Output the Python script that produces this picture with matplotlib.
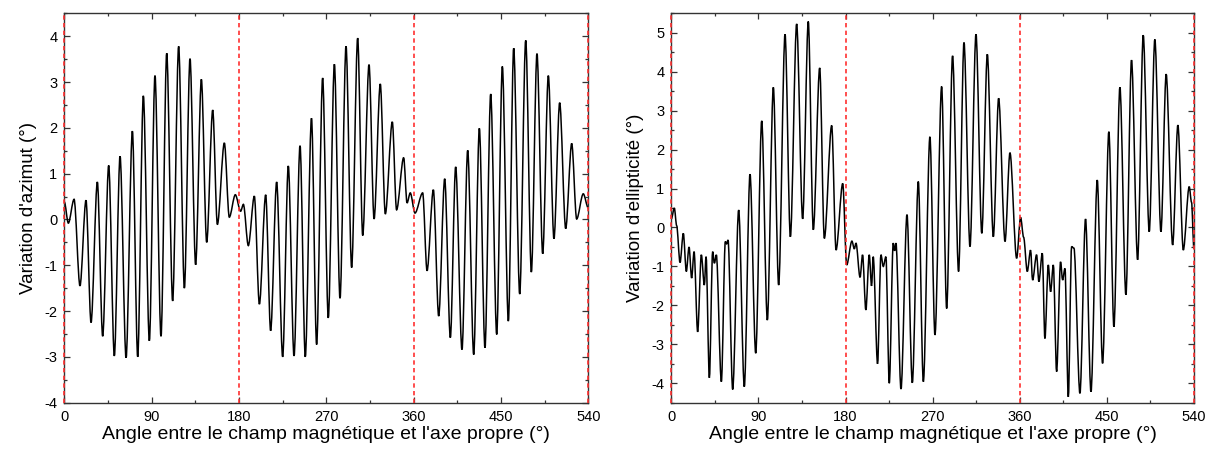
import numpy as np
import matplotlib
matplotlib.use("Agg")
import matplotlib.pyplot as plt
from matplotlib.ticker import MultipleLocator
from matplotlib.path import Path
from matplotlib.patches import PathPatch

plt.rcParams['font.family'] = ['Liberation Sans', 'DejaVu Sans']
plt.rcParams['axes.unicode_minus'] = False

# Azimuth variation: local extrema (angle in deg, value in deg)
azim_angle = [0, 4.1, 10.0, 16.1, 22.3, 27.5, 34.0, 39.5, 45.7, 51.5, 57.4, 63.6,
              70.1, 75.6, 81.4, 87.6, 93.4, 99.6, 105.5, 111.6, 117.8, 123.7,
              129.5, 135.3, 141.2, 146.7, 152.9, 157.7, 164.9, 170.0, 176.2,
              181.7, 184.5, 189.6, 195.8, 201.0, 207.5, 212.6, 218.8, 225.0,
              230.8, 236.7, 242.9, 248.3, 254.7, 260.0, 266.2, 272.0, 278.3,
              284.1, 290.3, 296.1, 302.3, 307.5, 314.0, 319.2, 325.6, 330.8,
              338.0, 342.4, 349.7, 353.2, 356.5, 361.4, 369.3, 373.8, 380.3,
              385.8, 392.0, 397.8, 403.3, 409.8, 415.7, 421.9, 427.7, 433.5,
              439.4, 445.6, 451.4, 457.6, 463.1, 469.3, 475.5, 481.3, 487.1,
              493.0, 498.8, 504.6, 510.5, 516.7, 522.9, 528.0, 534.8, 540]
azim_value = [0.38, -0.08, 0.44, -1.45, 0.42, -2.25, 0.82, -2.55, 1.18, -2.98, 1.38, -3.02,
              1.93, -3.00, 2.70, -2.65, 3.14, -2.55, 3.63, -1.78, 3.78, -1.50,
              3.51, -0.99, 3.06, -0.50, 2.39, -0.11, 1.67, 0.05, 0.54,
              0.18, 0.33, -0.57, 0.51, -1.85, 0.54, -2.43, 0.82, -3.00,
              1.17, -2.98, 1.61, -3.00, 2.21, -2.73, 3.09, -2.15, 3.39,
              -1.72, 3.78, -1.05, 3.96, -0.35, 3.38, 0.01, 2.96, 0.12,
              2.13, 0.21, 1.35, 0.36, 0.58, 0.14, 0.58, -1.12, 0.65,
              -2.11, 0.89, -2.58, 1.15, -2.84, 1.51, -2.95, 1.99, -2.80,
              2.74, -2.51, 3.34, -2.22, 3.74, -1.63, 3.91, -1.15, 3.62,
              -0.75, 3.14, -0.42, 2.55, -0.20, 1.66, 0.01, 0.56, 0.25]

# Ellipticity variation: local extrema
ellip_angle = [0, 3.1, 5.5, 9.0, 12.4, 15.5, 18.3, 21.0, 23.5, 27.2, 31.0, 34.1,
               35.9, 39.3, 42.7, 44.5, 46.5, 51.7, 55.8, 57.2, 58.6, 63.4, 69.6,
               75.4, 81.3, 87.2, 93.4, 99.2, 105.4, 110.9, 117.5, 123.0, 129.5,
               135.7, 141.5, 146.7, 153.3, 158.1, 165.7, 170.2, 177.1, 181.2,
               186.6, 189.1, 190.8, 195.0, 197.6, 201.0, 204.5, 206.9, 208.6,
               213.1, 216.6, 219.0, 221.7, 225.2, 229.3, 230.7, 232.1, 237.3,
               243.5, 249.0, 255.2, 260.4, 267.2, 272.4, 279.3, 284.5, 290.6,
               296.8, 302.4, 308.6, 314.8, 320.8, 326.5, 332.7, 338.2, 344.8,
               349.9, 356.8, 360.9, 364.0, 367.8, 371.2, 373.3, 377.4, 379.8,
               383.3, 386.0, 389.5, 391.9, 394.7, 398.1, 402.2, 404.3, 406.7,
               410.2, 413.6, 416.0, 422.2, 428.0, 433.6, 440.1, 445.6, 452.1,
               457.3, 463.5, 469.7, 475.5, 481.8, 487.6, 493.8, 499.6, 505.9,
               511.3, 518.0, 523.4, 529.0, 535.1, 537.5, 540]
ellip_value = [0.22, 0.50, 0.05, -0.90, -0.15, -1.13, -0.50, -1.30, -0.62, -2.68, -0.70, -1.48,
               -0.75, -3.86, -0.62, -0.92, -0.70, -3.96, -0.36, -0.42, -0.32, -4.16, 0.45,
               -4.09, 1.37, -3.23, 2.74, -2.38, 3.60, -1.48, 4.96, -0.24, 5.23,
               0.22, 5.29, -0.06, 4.10, -0.28, 2.62, -0.58, 1.13, -0.96,
               -0.35, -0.55, -0.40, -1.28, -0.70, -2.12, -0.70, -1.50, -0.75,
               -3.50, -0.70, -1.00, -0.75, -4.00, -0.40, -0.60, -0.40, -4.15,
               0.33, -3.99, 1.18, -3.96, 2.33, -2.76, 3.62, -2.08, 4.41,
               -1.13, 4.75, -0.49, 4.96, -0.15, 4.45, -0.24, 3.32, -0.36,
               1.92, -0.79, 0.26, -0.25, -1.13, -0.58, -1.35, -0.70, -1.39,
               -0.66, -2.85, -0.96, -1.65, -0.96, -3.70, -0.88, -1.35, -1.05,
               -4.35, -0.49, -0.53, -4.26, 0.22, -4.22, 1.22, -3.49, 2.46,
               -2.55, 3.60, -1.73, 4.30, -0.83, 4.94, -0.11, 4.83, -0.11,
               3.94, -0.45, 2.63, -0.58, 1.05, 0.65, -0.55]

marker_angles = [0, 180, 360, 540]
x_ticks = [0, 90, 180, 270, 360, 450, 540]
x_label = "Angle entre le champ magnétique et l'axe propre (°)"


def extrema_path(xs, ys, k=0.32):
    # smooth curve through the extrema: flat tangent at each one (Bezier segments)
    verts = [(xs[0], ys[0])]
    codes = [Path.MOVETO]
    for x0, y0, x1, y1 in zip(xs[:-1], ys[:-1], xs[1:], ys[1:]):
        dx = x1 - x0
        verts += [(x0 + k * dx, y0), (x1 - k * dx, y1), (x1, y1)]
        codes += [Path.CURVE4] * 3
    return Path(verts, codes)


fig = plt.figure(figsize=(12.12, 4.53), dpi=100)
ax1 = fig.add_axes([0.0531, 0.111, 0.4323, 0.8596])
ax2 = fig.add_axes([0.5539, 0.111, 0.4312, 0.8596])

panels = [
    (ax1, azim_angle, azim_value, (-4, 4.5), "Variation d'azimut (°)"),
    (ax2, ellip_angle, ellip_value, (-4.5, 5.5), "Variation d'ellipticité (°)"),
]

for ax, xs, ys, ylim, ylabel in panels:
    ax.add_patch(PathPatch(extrema_path(xs, ys), fill=False, edgecolor="black",
                           lw=1.1, zorder=2))
    for a in marker_angles:
        ax.axvline(a, color="#ff3030", lw=1.2, linestyle=(0, (2.6, 2.0)),
                   zorder=4, clip_on=False)
    ax.set_xlim(0, 540)
    ax.set_ylim(*ylim)
    ax.set_xticks(x_ticks)
    ax.xaxis.set_minor_locator(MultipleLocator(45))
    ax.yaxis.set_major_locator(MultipleLocator(1))
    ax.yaxis.set_minor_locator(MultipleLocator(0.5))
    ax.tick_params(which="both", direction="in", top=True, right=True,
                   labelsize=10.5, width=0.9, color="#333333")
    ax.tick_params(which="major", length=4.5, pad=5)
    ax.tick_params(which="minor", length=2.5)
    for s in ax.spines.values():
        s.set_linewidth(1.0)
        s.set_color("#333333")
    ax.set_xlabel(x_label, fontsize=14, labelpad=2)
    ax.set_ylabel(ylabel, fontsize=13.5, labelpad=5)

fig.savefig("out.png", dpi=100)
